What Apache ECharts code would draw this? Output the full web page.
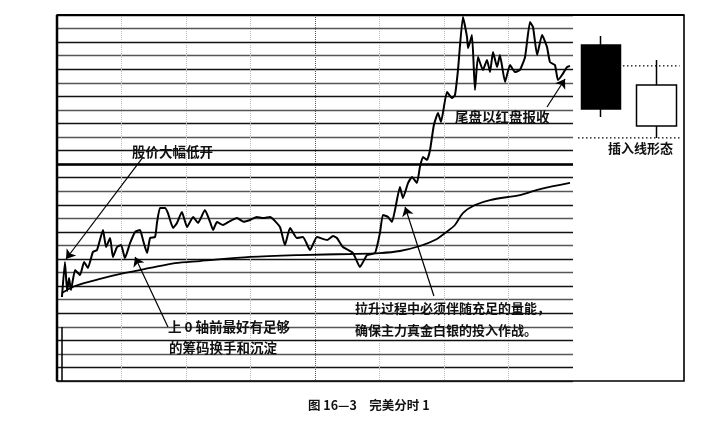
<!DOCTYPE html>
<html>
<head>
<meta charset="utf-8">
<script src="https://cdn.jsdelivr.net/npm/echarts@6/dist/echarts.min.js"></script>
<style>
html,body{margin:0;padding:0;background:#fff;}
#main{width:714px;height:426px;}
</style>
</head>
<body>
<div id="main"></div>
<script>
// ---- data (time in minutes from open, price in grid units) ----
var priceTimes = [2.3,3.7,4.7,5.6,6.5,8.4,10.7,12.6,14.4,16.7,18.6,21.4,22.8,24.7,26.0,27.9,29.8,31.6,34.0,36.3,38.6,40.0,41.9,43.3,45.6,46.5,47.9,50.2,51.6,54.0,55.8,58.1,60.5,63.3,65.6,68.8,71.2,72.6,74.4,77.2,80.5,83.7,86.8,89.8,92.9,95.8,99.1,103.7,106.0,108.4,111.6,114.4,117.7,120.9,125.6,128.4,130.2,133.0,137.7,140.9,144.2,147.9,150.2,151.6,154.0,155.8,157.2,159.5,160.9,163.3,165.1,167.4,168.8,170.2,172.1,173.5,175.3,177.2,178.6,181.4,183.7,185.1,186.5,188.8,190.7,191.2,193.0,194.4,195.8,198.1,200.0,201.4,202.8,204.7,206.0,208.4,210.7,213.0,215.3,217.7,220.0,221.4,223.3,225.6,227.9,229.3,231.6,233.0,234.9,237.2,238.6];
var priceValues = [6.2,8.78,6.64,7.6,6.71,8.19,7.82,8.78,8.34,9.52,9.66,11.14,9.88,10.55,9.15,9.88,10.03,9.07,10.18,10.99,11.14,10.4,9.44,10.55,10.62,11.66,12.76,12.76,12.39,11.29,11.66,12.47,11.36,12.1,11.66,12.61,11.73,11.14,11.73,11.51,11.8,12.02,11.75,11.88,12.1,12.02,12.1,11.36,10.03,11.29,10.55,10.62,9.66,10.62,10.4,10.7,10.55,9.88,9.44,8.41,9.29,9.44,10.92,12.25,12.1,11.73,12.61,14.31,13.5,14.61,15.05,14.61,15.79,16.52,16.3,17.04,18.88,19.77,19.11,21.32,20.88,21.1,22.94,26.85,25.38,24.56,25.52,21.47,23.9,22.94,23.68,22.79,24.27,23.16,24.05,22.06,23.31,22.79,22.94,23.9,26.48,26.11,24.05,25.52,24.64,23.53,23.31,22.2,22.57,23.16,23.24];
var avgTimes = [2.3,8.4,20.0,31.6,43.3,54.9,66.5,89.8,113.0,136.3,150.2,159.5,168.8,175.8,180.5,185.1,188.8,194.4,201.4,215.3,220.0,224.7,238.6];
var avgValues = [6.49,7.01,7.53,7.97,8.34,8.7,8.85,9.15,9.29,9.37,9.44,9.59,9.96,10.4,10.92,11.51,12.39,12.98,13.35,13.72,13.94,14.16,14.61];
// candles: [open, close, low, high]
var candleNames = ['阴线','阳线'];
var candleValues = [[24.79,20.07,19.47,25.45],[18.81,21.84,17.93,23.68]];
// annotation arrows: [fromTime, fromValue, toTime, toValue]
var arrows = [[40.0,16.52,4.2,9.0],[51.6,3.98,36.3,9.15],[175.3,6.27,161.9,12.84],[227.9,20.21,236.3,22.28]];
var texts = ['股价大幅低开','尾盘以红盘报收','插入线形态','上 0 轴前最好有足够','的筹码换手和沉淀','拉升过程中必须伴随充足的量能，','确保主力真金白银的投入作战。'];
var caption = '图 16—3　完美分时 1';

function pairs(a,b){var r=[];for(var i=0;i<a.length;i++)r.push([a[i],b[i]]);return r;}

var chart = echarts.init(document.getElementById('main'), null, {renderer:'canvas'});
var closeVal = priceValues[priceValues.length-1];
var fnt = 'bold 13.5px "Noto Sans CJK SC", sans-serif';
function txt(t,x,y,f){return {type:'text',x:x,y:y,style:{text:t,font:f||fnt,fill:'#111',verticalAlign:'middle'},z:10};}

var option = {
  animation:false,
  backgroundColor:'#fff',
  grid:[
    {left:57,right:141,top:15,bottom:45},
    {left:573,right:30,top:15,bottom:45}
  ],
  xAxis:[
    {type:'value',gridIndex:0,min:0,max:240,interval:30,
     axisLine:{show:false},axisTick:{show:false},axisLabel:{show:false},
     splitLine:{show:true,lineStyle:{type:'dotted',width:1,color:['rgba(0,0,0,0)','#bbb','#bbb','#bbb','#555','#bbb','#bbb','#bbb','rgba(0,0,0,0)']}}},
    {type:'category',gridIndex:1,data:candleNames,show:false},
    {type:'value',gridIndex:1,min:0,max:1,show:false}
  ],
  yAxis:[
    {type:'value',gridIndex:0,min:0,max:27,interval:1,
     axisLine:{show:false},axisTick:{show:false},axisLabel:{show:false},
     splitLine:{show:true,lineStyle:{width:1.4,color:['#555','#111']}}},
    {type:'value',gridIndex:1,min:0,max:27,show:false,splitLine:{show:false}}
  ],
  series:[
    {type:'line',name:'均价',xAxisIndex:0,yAxisIndex:0,data:pairs(avgTimes,avgValues),
     showSymbol:false,smooth:0.3,lineStyle:{color:'#000',width:1.8},silent:true,
     markLine:{silent:true,symbol:'none',label:{show:false},lineStyle:{color:'#000',width:2.6,type:'solid'},data:[{yAxis:16}]}},
    {type:'line',name:'价格',xAxisIndex:0,yAxisIndex:0,data:pairs(priceTimes,priceValues),
     showSymbol:false,smooth:0.15,lineStyle:{color:'#000',width:2},silent:true,
     markLine:{silent:true,symbol:['none','arrow'],symbolSize:9,label:{show:false},
       lineStyle:{color:'#000',width:1.2,type:'solid'},
       data:arrows.map(function(a){return [{coord:[a[0],a[1]]},{coord:[a[2],a[3]]}];})}},
    {type:'candlestick',xAxisIndex:1,yAxisIndex:1,data:candleValues,barWidth:40,silent:true,
     itemStyle:{color:'#fff',color0:'#000',borderColor:'#000',borderColor0:'#000',borderWidth:1.5}},
    {type:'line',xAxisIndex:2,yAxisIndex:1,data:[[0.45,closeVal],[0.96,closeVal]],showSymbol:false,silent:true,
     lineStyle:{color:'#000',width:1.2,type:[1.5,2.5]}},
    {type:'line',xAxisIndex:2,yAxisIndex:1,data:[[0.045,candleValues[1][2]],[0.96,candleValues[1][2]]],showSymbol:false,silent:true,
     lineStyle:{color:'#000',width:1.2,type:[1.5,2.5]}}
  ],
  graphic:[
    {type:'rect',shape:{x:57,y:15,width:627,height:366},style:{fill:'none',stroke:'#000',lineWidth:1.6},z:5},
    {type:'line',shape:{x1:57,y1:15,x2:57,y2:381},style:{stroke:'#000',lineWidth:2.5},z:6},
    {type:'line',shape:{x1:57,y1:15,x2:684,y2:15},style:{stroke:'#000',lineWidth:2.2},z:6},
    {type:'line',shape:{x1:62,y1:327,x2:62,y2:381},style:{stroke:'#000',lineWidth:1.5},z:6},
    txt(texts[0],132,152),
    txt(texts[1],455,117),
    txt(texts[2],608,148,'bold 13px "Noto Sans CJK SC", sans-serif'),
    txt(texts[3],168,327),
    txt(texts[4],169,348),
    txt(texts[5],355,308,'bold 13px "Noto Sans CJK SC", sans-serif'),
    txt(texts[6],355,330,'bold 13px "Noto Sans CJK SC", sans-serif'),
    txt(caption,308,405,'bold 12.5px "Noto Sans CJK SC", sans-serif')
  ]
};
chart.setOption(option);
</script>
</body>
</html>
